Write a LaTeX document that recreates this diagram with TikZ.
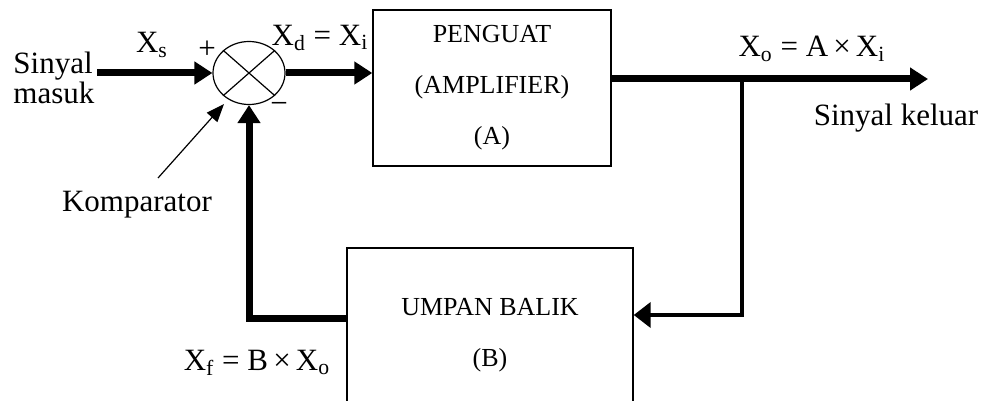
\documentclass[tikz,border=0pt]{standalone}
\usepackage{fontspec}
\setmainfont{Liberation Serif}
\usepackage{tikz}
\usetikzlibrary{arrows.meta, shapes.geometric, positioning}
\tikzset{
    blocknode/.style = {draw, rectangle, line width=0.7pt, inner sep=0em, align=center,
      font=\fontsize{13}{25.5}\selectfont},
    sumnode/.style = {draw, ellipse, line width=0.6pt, inner sep=0em,
      minimum width=36pt, minimum height=31.5pt},
    textnode/.style = {draw=none, fill=none, rectangle, inner sep=0em, align=left,
      font=\fontsize{15.5}{15}\selectfont},
    signal/.style = {line width=3.5pt, -{Triangle[length=9pt, width=11pt]}},
    feedline/.style = {line width=2pt, -{Triangle[length=8.5pt, width=12.5pt]}},
    pointer/.style = {line width=0.6pt, -{Triangle[length=9pt, width=7pt]}}
}

\begin{document}
\begin{tikzpicture}[x=0.5pt, y=-0.5pt]
\clip (0,0) rectangle (985,401);
\node [sumnode, name=comp] at (249,73) {};
\draw [line width=0.6pt] (comp.north west) -- (comp.south east) (comp.north east) -- (comp.south west);
\node [blocknode, name=ampA, minimum width=119pt, minimum height=78pt] at (492,88) {PENGUAT\\(AMPLIFIER)\\(A)};
\node [blocknode, name=feedB, minimum width=143pt, minimum height=87pt] at (490,335) {UMPAN BALIK\\(B)};

\node [textnode, name=sinyalin, anchor=west] at (13,78) {Sinyal\\masuk};
\node [textnode, name=xs] at (152,45) {X\textsubscript{s}};
\node [textnode, name=plus] at (207,50) {+};
\node [textnode, name=minus] at (279,108) {−};
\node [textnode, name=xd] at (320,38) {X\textsubscript{d} = X\textsubscript{i}};
\node [textnode, name=xo] at (812,49) {X\textsubscript{o} = A\,×\,X\textsubscript{i}};
\node [textnode, name=sinyalout] at (896,118) {Sinyal keluar};
\node [textnode, name=komp] at (137,205) {Komparator};
\node [textnode, name=xf] at (257,363) {X\textsubscript{f} = B\,×\,X\textsubscript{o}};

\coordinate (src) at (97,73);
\coordinate (outtip) at (928,79);
\coordinate (junc) at (742,79);
\coordinate (fbret) at (742,315);
\coordinate (fbcorner) at (249,318);
\coordinate (ptr) at (158,178);
\coordinate (ptrtip) at (224,104);

\draw [signal] (src) -- (comp.west);
\draw [signal] (comp.east) -- (ampA.west |- comp.east);
\draw [signal] (ampA.east |- outtip) -- (outtip);
\draw [feedline] (junc) -- (fbret) -- (feedB.east |- fbret);
\draw [signal] (feedB.west |- fbcorner) -- (fbcorner) -- (comp.south);
\draw [pointer] (ptr) -- (ptrtip);
\end{tikzpicture}
\end{document}
